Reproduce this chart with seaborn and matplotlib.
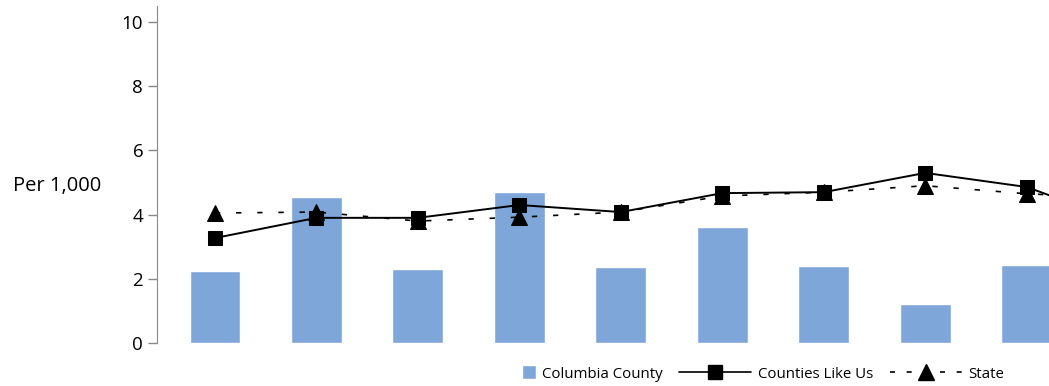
import matplotlib
matplotlib.use("Agg")
import matplotlib.pyplot as plt
from matplotlib.lines import Line2D
from matplotlib.patches import Rectangle
from matplotlib.legend_handler import HandlerPatch
import seaborn as sns
import pandas as pd

# values (last category is clipped at the right edge)
periods = ["P1", "P2", "P3", "P4", "P5", "P6", "P7", "P8", "P9", "P10"]
columbia = [2.24, 4.55, 2.30, 4.70, 2.37, 3.61, 2.40, 1.21, 2.43, 2.4]
counties_like_us = [3.27, 3.90, 3.90, 4.30, 4.08, 4.67, 4.70, 5.30, 4.86, 3.7]
state = [4.05, 4.08, 3.80, 3.92, 4.08, 4.58, 4.70, 4.90, 4.65, 4.5]

bar_color = "#7ea6d8"

sns.set_style("white")
plt.rcParams["font.family"] = ["Open Sans", "DejaVu Sans"]
plt.rcParams["text.color"] = "black"
plt.rcParams["ytick.labelcolor"] = "black"

df = pd.DataFrame({"period": periods, "columbia": columbia,
                   "counties": counties_like_us, "state": state})
df["pos"] = range(len(df))

fig = plt.figure(figsize=(10.49, 3.86), dpi=100)
ax = fig.add_axes([0.1497, 0.1114, 0.981, 0.873])

sns.barplot(data=df, x="period", y="columbia", color=bar_color,
            saturation=1, width=0.5, ax=ax)
sns.lineplot(data=df, x="pos", y="state", color="black", lw=1.2,
             marker="^", markersize=11, dashes=False, ax=ax,
             linestyle=(0, (3.2, 9.5)), markeredgecolor="black")
sns.lineplot(data=df, x="pos", y="counties", color="black", lw=1.4,
             marker="s", markersize=10, ax=ax, markeredgecolor="black")

ax.set_xlim(-0.57, 9.57)
ax.set_ylim(0, 10.5)
ax.set_yticks([0, 2, 4, 6, 8, 10])
ax.set_xticks([])
ax.set_xlabel("")
ax.set_ylabel("Per 1,000", rotation=0, fontsize=14.5, color="black",
              ha="center", va="center")
ax.yaxis.set_label_coords(-0.097, 0.466)
ax.tick_params(axis="y", labelsize=13.5, length=6.5, width=1,
               color="#888888", left=True, direction="out", pad=3.5,
               labelcolor="black")
for s in ["top", "right", "bottom"]:
    ax.spines[s].set_visible(False)
ax.spines["left"].set_color("#888888")


def square_patch(legend, orig_handle, xdescent, ydescent, width, height, fontsize):
    side = 14 * 72 / 100
    return Rectangle((width - side - xdescent, -ydescent + (height - side) / 2),
                     side, side, facecolor=bar_color, edgecolor="none")


handles = [
    Rectangle((0, 0), 1, 1, facecolor=bar_color),
    Line2D([], [], color="black", lw=1.2, marker="s", markersize=10),
    Line2D([], [], color="black", lw=1.2, linestyle=(0, (3, 7)),
           marker="^", markersize=11),
]
labels = ["Columbia County", "Counties Like Us", "State"]
fig.legend(handles, labels, ncol=3, loc="center",
           bbox_to_anchor=(734 / 1049, 1 - 374 / 386), frameon=False,
           fontsize=10.8, handlelength=4.8, handletextpad=0.45,
           columnspacing=1.1,
           handler_map={Rectangle: HandlerPatch(patch_func=square_patch)})

fig.savefig("out.png", dpi=100)
